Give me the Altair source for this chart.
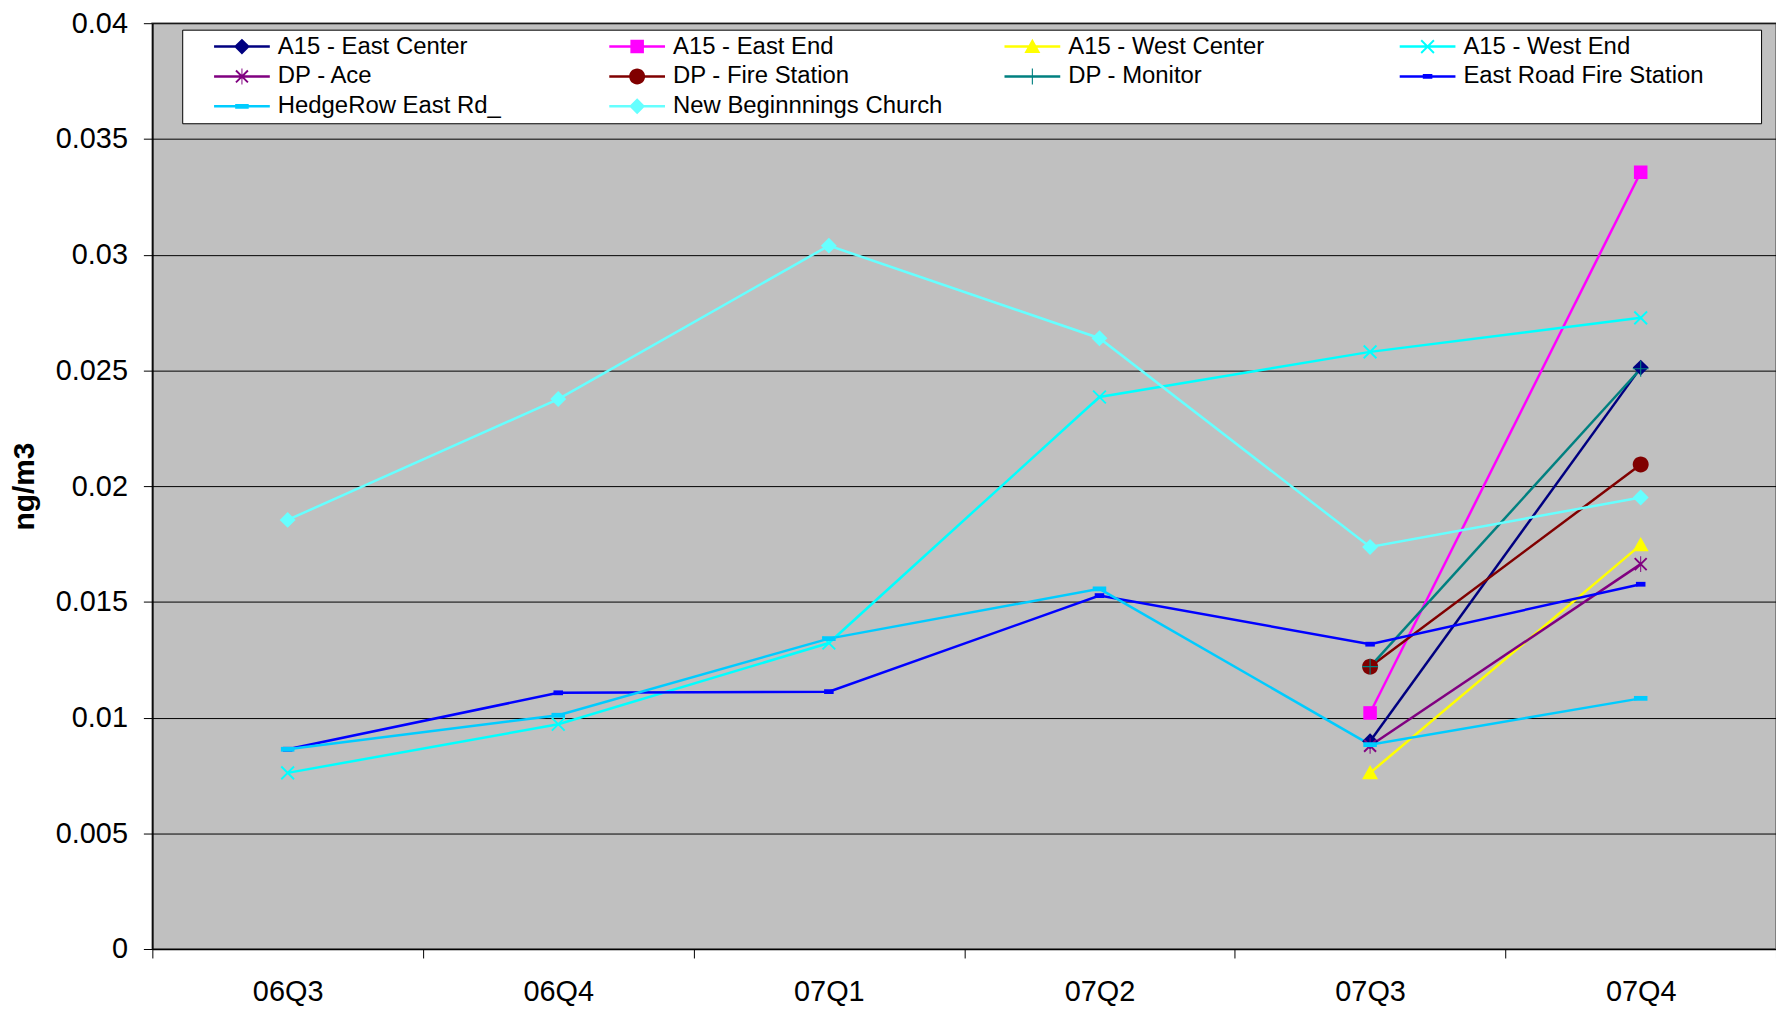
import altair as alt
import pandas as pd

categories = ["06Q3", "06Q4", "07Q1", "07Q2", "07Q3", "07Q4"]

series_names = [
    "A15 - East Center", "A15 - East End", "A15 - West Center", "A15 - West End",
    "DP - Ace", "DP - Fire Station", "DP - Monitor", "East Road Fire Station",
    "HedgeRow East Rd_", "New Beginnnings Church",
]

east_center = [None, None, None, None, 0.00898, 0.02512]
east_end = [None, None, None, None, 0.0102, 0.03356]
west_center = [None, None, None, None, 0.00761, 0.01746]
west_end = [0.00761, 0.00971, 0.01322, 0.02385, 0.0258, 0.02727]
dp_ace = [None, None, None, None, 0.00878, 0.01663]
dp_fire = [None, None, None, None, 0.0122, 0.02093]
dp_monitor = [None, None, None, None, 0.0122, 0.02507]
east_road = [0.00863, 0.01107, 0.01112, 0.01527, 0.01317, 0.01576]
hedgerow = [0.00863, 0.0101, 0.01341, 0.01556, 0.00883, 0.01083]
new_beg = [0.01854, 0.02376, 0.03039, 0.02639, 0.01737, 0.01951]

all_values = [east_center, east_end, west_center, west_end, dp_ace, dp_fire,
              dp_monitor, east_road, hedgerow, new_beg]

colors = ["#000080", "#FF00FF", "#FFFF00", "#00FFFF", "#800080", "#800000",
          "#008080", "#0000FF", "#00CCFF", "#66FFFF"]

rows = []
for name, vals in zip(series_names, all_values):
    for i, (c, v) in enumerate(zip(categories, vals)):
        if v is not None:
            rows.append({"series": name, "quarter": c, "value": v, "order": i})
df = pd.DataFrame(rows)

# ---- marker shapes (unit square [-1,1]) ----
def rect(x0, y0, x1, y1):
    return f"M{x0},{y0}L{x1},{y0}L{x1},{y1}L{x0},{y1}Z"

def diag_x(a=0.8, t=0.12):
    d = t / 2 ** 0.5
    r1 = f"M{-a+d},{-a-d}L{a+d},{a-d}L{a-d},{a+d}L{-a-d},{-a+d}Z"
    r2 = f"M{-a-d},{a-d}L{a-d},{-a-d}L{a+d},{-a+d}L{-a+d},{a+d}Z"
    return r1 + " " + r2

diamond = "M0,-1L1,0L0,1L-1,0Z"
square = rect(-0.85, -0.85, 0.85, 0.85)
triangle = "M0,-1L1,0.8L-1,0.8Z"
xmark = diag_x()
asterisk = diag_x(0.75, 0.12) + " " + rect(-0.06, -1.0, 0.06, 1.0)
circle = "M-1,0A1,1 0 1,1 1,0A1,1 0 1,1 -1,0Z"
plus = rect(-1, -0.07, 1, 0.07) + " " + rect(-0.07, -1, 0.07, 1)
dash_small = rect(-0.6, -0.3, 0.6, 0.3)
dash_wide = rect(-0.85, -0.3, 0.85, 0.3)

markers = [diamond, square, triangle, xmark, asterisk, circle, plus,
           dash_small, dash_wide, diamond]
legend_line = rect(-3.5, -0.16, 3.5, 0.16)
legend_shapes = [m + " " + legend_line for m in markers]

FONT = "Liberation Sans"
W, H = 1631, 930

x_enc = alt.X("quarter:N", sort=categories,
              scale=alt.Scale(domain=categories, paddingInner=0, paddingOuter=0),
              axis=alt.Axis(title=None, labelAngle=0, tickBand="extent", grid=False,
                            ticks=True, tickSize=9, tickColor="black",
                            domainColor="black", domainWidth=1.5,
                            labelFont=FONT, labelFontSize=29, labelColor="black",
                            labelPadding=20))
y_enc = alt.Y("value:Q",
              scale=alt.Scale(domain=[0, 0.04], nice=False, zero=True),
              axis=alt.Axis(title="ng/m3", values=[i * 0.005 for i in range(9)],
                            format=".3~f", grid=True, gridColor="black", gridWidth=1,
                            tickSize=9, tickColor="black", domainColor="black",
                            domainWidth=1.5,
                            labelFont=FONT, labelFontSize=29, labelColor="black",
                            labelPadding=16,
                            titleFont=FONT, titleFontSize=30, titleFontWeight="bold",
                            titleColor="black", titleX=-128, titleY=H / 2,
                            titleAngle=-90, titleBaseline="middle"))

color_scale = alt.Scale(domain=series_names, range=colors)

lines = alt.Chart(df).mark_line(strokeWidth=2.5).encode(
    x=x_enc, y=y_enc,
    color=alt.Color("series:N", scale=color_scale, legend=None),
    order="order:Q",
)

points = alt.Chart(df).mark_point(filled=True, size=256, strokeWidth=0, opacity=1).encode(
    x=x_enc, y=y_enc,
    color=alt.Color("series:N", scale=color_scale, legend=None),
    shape=alt.Shape("series:N", scale=alt.Scale(domain=series_names, range=markers),
                    legend=None),
)

def make_legend():
    return alt.Legend(title=" ", titleOrient="right", titlePadding=53, titleFontSize=2,
                      orient="none", legendX=30, legendY=6.5,
                      direction="horizontal", columns=4, gridAlign="all",
                      columnPadding=35, rowPadding=6, padding=5,
                      fillColor="white", strokeColor="black",
                      symbolSize=256, symbolStrokeWidth=0,
                      symbolOffset=43, labelOffset=24,
                      labelFont=FONT, labelFontSize=24,
                      labelColor="black", labelLimit=500)

legend_layer = alt.Chart(df).mark_point(filled=True, size=256, strokeWidth=0, opacity=1).encode(
    x=x_enc, y=y_enc,
    color=alt.Color("series:N", scale=color_scale, legend=make_legend()),
    shape=alt.Shape("series:N", scale=alt.Scale(domain=series_names, range=legend_shapes),
                    legend=make_legend()),
).transform_filter("false")

chart = alt.layer(lines, points, legend_layer).resolve_scale(
    color="independent", shape="independent"
).properties(
    width=W, height=H,
    autosize=alt.AutoSizeParams(type="none"),
    padding={"left": 145, "top": 13, "right": 0, "bottom": 62},
    background="white",
).configure_view(
    fill="#C0C0C0", stroke="#808080", strokeWidth=2
)

chart.save("out.html", embed_options={"renderer": "svg", "actions": False})
